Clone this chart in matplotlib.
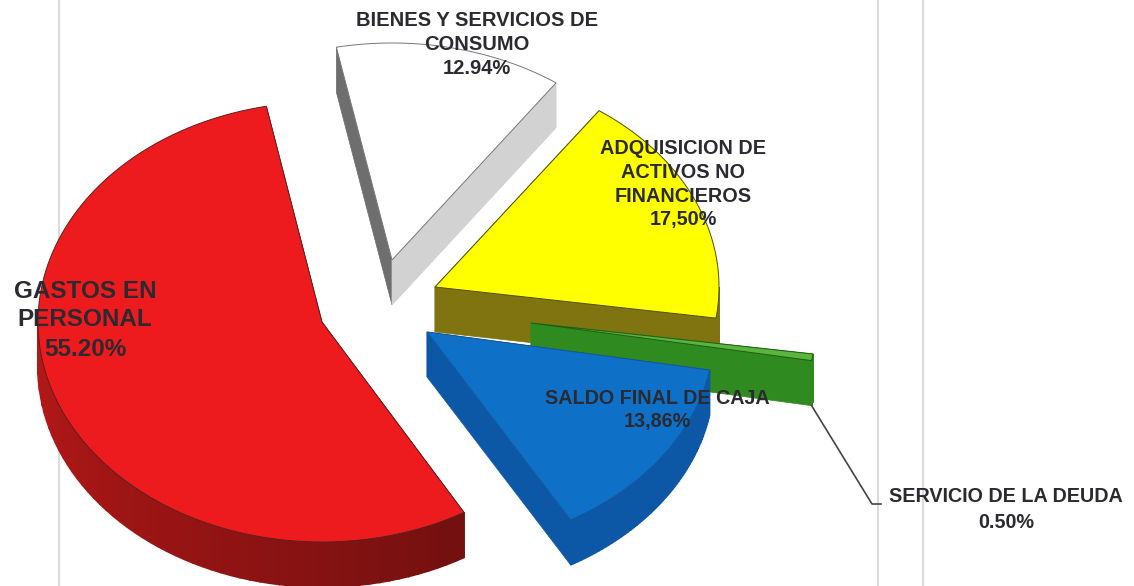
import numpy as np
import matplotlib
matplotlib.use('Agg')
import matplotlib.pyplot as plt
from matplotlib.patches import Polygon

plt.rcParams['font.family'] = ['Liberation Sans', 'DejaVu Sans']

#values in counter clockwise order, starting at the top of the red slice
names = ['GASTOS EN\nPERSONAL', 'SALDO FINAL DE CAJA', 'SERVICIO DE LA DEUDA',
         'ADQUISICION DE\nACTIVOS NO\nFINANCIEROS', 'BIENES Y SERVICIOS DE\nCONSUMO']
values = [55.20, 13.86, 0.50, 17.50, 12.94]
value_labels = ['55.20%', '13,86%', '0.50%', '17,50%', '12.94%']

#layout of the exploded pie, in pixels of the picture
start_angle = 101.3
depth = 45
radius_x = [284, 287, 285, 284, 284]
radius_y = [220, 217, 215, 216, 217]
centers = [(322, 322), (427, 332), (531, 323), (435, 287), (392, 260)]

#colours: top, first radial side, second radial side, arc side from, arc side to
top_colors = ['#ee1b1e', '#0f70c8', '#5ab43e', '#ffff00', '#ffffff']
edge_colors = ['#5a2020', '#0f5a9c', '#1d5e14', '#4f4f10', '#777777']
side1_colors = ['#8a1212', '#0d58a6', '#2f8a1f', '#7f7410', '#d2d2d2']
side2_colors = ['#8a1212', '#0d58a6', '#2f8a1f', '#7f7410', '#6e6e6e']
arc_from = ['#b81818', '#0d58a6', '#2f8a1f', '#7f7410', '#d2d2d2']
arc_to = ['#741010', '#0d58a6', '#2f8a1f', '#7f7410', '#d2d2d2']

#back slices first
draw_order = [4, 3, 2, 0, 1]

#where the labels sit: name lines then value
label_x = [85, 657, 1006, 683, 477]
label_y = [[292, 319, 349], [398, 422], [497, 522], [149, 173, 196, 219], [21, 44, 68]]
label_size = [17.5, 14.2, 14.2, 14.3, 14.5]

fig = plt.figure(figsize=(11.34, 5.86), dpi=100)
ax = fig.add_axes([0, 0, 1, 1])
ax.set_xlim(0, 1134)
ax.set_ylim(586, 0)
ax.axis('off')

#faint vertical lines behind the pie
for x in [59, 878, 923]:
    ax.plot([x, x], [0, 586], color='#d4d4d4', lw=1.2, zorder=1)


def point(i, angle, drop=0):
    a = np.radians(angle)
    return (centers[i][0] + radius_x[i] * np.cos(a),
            centers[i][1] - radius_y[i] * np.sin(a) + drop)


def blend(c1, c2, t):
    a = np.array(matplotlib.colors.to_rgb(c1))
    b = np.array(matplotlib.colors.to_rgb(c2))
    return a + (b - a) * t


#angles come from the values
fractions = np.array(values) / sum(values) * 360
starts = start_angle + np.concatenate([[0], np.cumsum(fractions)[:-1]])
ends = starts + fractions

z = 2
for i in draw_order:
    t1, t2 = starts[i], ends[i]
    c = centers[i]

    #radial sides
    for angle, col in [(t2, side2_colors[i]), (t1, side1_colors[i])]:
        p = point(i, angle)
        ax.add_patch(Polygon([c, p, (p[0], p[1] + depth), (c[0], c[1] + depth)],
                             facecolor=col, edgecolor=col, lw=0.5, zorder=z))

    #outer side, only the part that faces the front
    lo, hi = max(t1, 180), min(t2, 360)
    if hi > lo:
        angles = np.linspace(lo, hi, 60)
        for k in range(len(angles) - 1):
            col = blend(arc_from[i], arc_to[i], k / (len(angles) - 2))
            a, b = point(i, angles[k]), point(i, angles[k + 1])
            ax.add_patch(Polygon([a, b, (b[0], b[1] + depth), (a[0], a[1] + depth)],
                                 facecolor=col, edgecolor=col, lw=1.2, zorder=z))

    #top face
    angles = np.linspace(t1, t2, 120)
    outline = [c] + [point(i, a) for a in angles]
    ax.add_patch(Polygon(outline, closed=True, facecolor=top_colors[i],
                         edgecolor=edge_colors[i], lw=0.7, zorder=z))
    z += 1

#leader line of the small slice
corner = point(2, starts[2], depth)
ax.plot([corner[0], 872, 881], [corner[1], 504, 504], color='#444444', lw=1.2, zorder=z)

for i in range(len(values)):
    lines = names[i].split('\n') + [value_labels[i]]
    for line, y in zip(lines, label_y[i]):
        ax.text(label_x[i], y, line, ha='center', va='center', fontsize=label_size[i],
                fontweight='bold', color='#2a2a30', zorder=z + 1)

fig.savefig('out.png', dpi=100)
